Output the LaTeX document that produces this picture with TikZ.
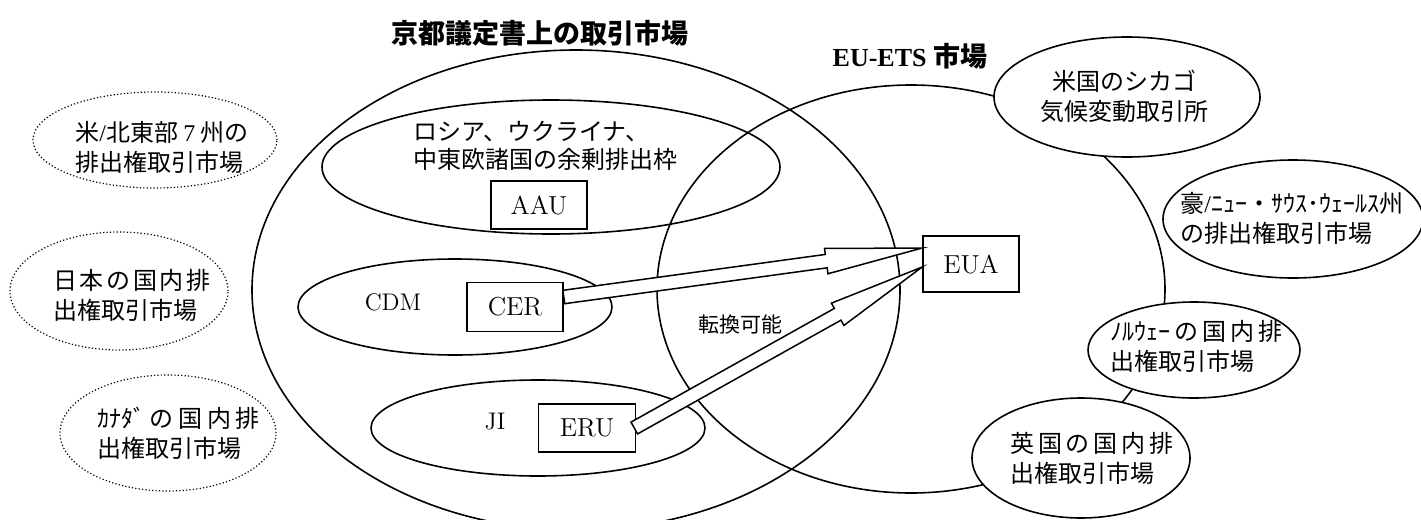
\documentclass[tikz,border=0pt]{standalone}
\usepackage{fontspec}
\usetikzlibrary{shapes.geometric,shapes.arrows,calc}
\newfontfamily\jp{Noto Sans CJK JP}
\newfontfamily\lser{Liberation Serif}
\newcommand\jsp[1]{\hspace{#1}}
\begin{document}
\begin{tikzpicture}[x=0.5pt,y=-0.5pt,
  ell/.style={ellipse, draw, line width=0.8pt, inner sep=0pt},
  wel/.style={ell, fill=white},
  dell/.style={ellipse, draw, line width=0.6pt, dash pattern=on 0.6pt off 1.1pt, inner sep=0pt},
  box/.style={draw, line width=0.8pt, inner sep=0pt, font=\fontsize{13}{15}\selectfont},
  jtext/.style={font=\jp\fontsize{12}{15}\selectfont, align=left, inner sep=0pt},
  blockarrow/.style={single arrow, draw, fill=white, line width=0.75pt, inner xsep=0pt, inner ysep=3pt, single arrow head extend=3pt, single arrow tip angle=15, minimum width=0pt, anchor=tail, outer sep=0pt}]
\useasboundingbox (0,0) rectangle (1421,520);

% titles
\node[font=\jp\bfseries\fontsize{13.5}{16}\selectfont] (title1) at (540,33) {京都議定書上の取引市場};
\node[inner sep=0pt] (title2) at (910,56) {{\lser\bfseries\fontsize{13}{15}\selectfont EU-ETS} {\jp\bfseries\fontsize{13.5}{16}\selectfont 市場}};

% big ellipses
\node[ell, minimum width=324pt, minimum height=240pt] (kyoto) at (576,290) {};
\node[ell, minimum width=254pt, minimum height=204pt] (eu) at (911,289) {};

% inner ellipses
\node[ell, minimum width=229pt, minimum height=67pt] (aauell) at (551,167) {};
\node[ell, minimum width=157pt, minimum height=48pt] (cdmell) at (455,307) {};
\node[ell, minimum width=167pt, minimum height=48pt] (jiell) at (538,428) {};

% right ellipses (white filled)
\node[wel, minimum width=133pt, minimum height=60pt] (chicago) at (1127,97) {};
\node[wel, minimum width=130pt, minimum height=59pt] (aus) at (1293,219) {};
\node[wel, minimum width=106pt, minimum height=48pt] (nor) at (1194,350) {};
\node[wel, minimum width=109pt, minimum height=60pt] (uk) at (1081,458) {};

% left dotted ellipses
\node[dell, minimum width=122pt, minimum height=48pt] (us) at (155,140) {};
\node[dell, minimum width=109pt, minimum height=59pt] (japan) at (119,291) {};
\node[dell, minimum width=108pt, minimum height=58pt] (canada) at (168,433) {};

% texts
\node[jtext, font=\jp\fontsize{12}{14}\selectfont, anchor=west] (aautxt) at (413,146) {ロシア、ウクライナ、\\中東欧諸国の余剰排出枠};
\node[font=\fontsize{12}{14}\selectfont] (cdmtxt) at (393,302) {CDM};
\node[font=\fontsize{12}{14}\selectfont] (jitxt) at (495,422) {JI};
\node[font=\jp\fontsize{10.5}{12}\selectfont] (conv) at (740,325) {転換可能};

\node[jtext, anchor=west] (ustxt) at (75,147) {米{\lser/}北東部 {\lser 7} 州の\\排出権取引市場};
\node[jtext, anchor=west] (jptxt) at (53,295) {日\jsp{1.3pt}本\jsp{1.3pt}の\jsp{1.3pt}国\jsp{1.3pt}内\jsp{1.3pt}排\\出権取引市場};
\node[jtext, anchor=west] (catxt) at (97,433) {ｶﾅﾀﾞ\jsp{2.3pt}の\jsp{2.3pt}国\jsp{2.3pt}内\jsp{2.3pt}排\\出権取引市場};

\node[jtext, align=center, anchor=center] (chtxt) at (1124,96) {米国のシカゴ\\気候変動取引所};
\node[jtext, anchor=west] (austxt) at (1180,218) {豪{\lser/}ﾆｭｰ・ｻｳｽ･ｳｪｰﾙｽ州\\の排出権取引市場};
\node[jtext, anchor=west] (nortxt) at (1110,346) {ﾉﾙｳｪｰ\jsp{2pt}の\jsp{2pt}国\jsp{2pt}内\jsp{2pt}排\\出権取引市場};
\node[jtext, anchor=west] (uktxt) at (1010,458) {英\jsp{1.9pt}国\jsp{1.9pt}の\jsp{1.9pt}国\jsp{1.9pt}内\jsp{1.9pt}排\\出権取引市場};

% boxes
\node[box, minimum width=48pt, minimum height=24pt] (AAU) at (539,205) {AAU};
\node[box, minimum width=48pt, minimum height=24.5pt] (CER) at (515,307) {CER};
\node[box, minimum width=48.5pt, minimum height=24pt] (ERU) at (587,428) {ERU};
\node[box, minimum width=48pt, minimum height=28pt] (EUA) at (971,264) {EUA};

% block arrows
\coordinate (t1) at ($(CER.east)+(0,-10)$);
\coordinate (h1) at ($(EUA.west)+(0,-16)$);
\coordinate (t2) at ($(ERU.east)+(-2,0)$);
\coordinate (h2) at ($(EUA.west)+(0,3)$);
\path let \p1=($(h1)-(t1)$), \n1={atan2(\y1,\x1)}, \n2={veclen(\x1,\y1)} in
  node[blockarrow, rotate=\n1, minimum height=\n2] (arr1) at (t1) {};
\path let \p1=($(h2)-(t2)$), \n1={atan2(\y1,\x1)}, \n2={veclen(\x1,\y1)} in
  node[blockarrow, rotate=\n1, minimum height=\n2] (arr2) at (t2) {};
\end{tikzpicture}
\end{document}
